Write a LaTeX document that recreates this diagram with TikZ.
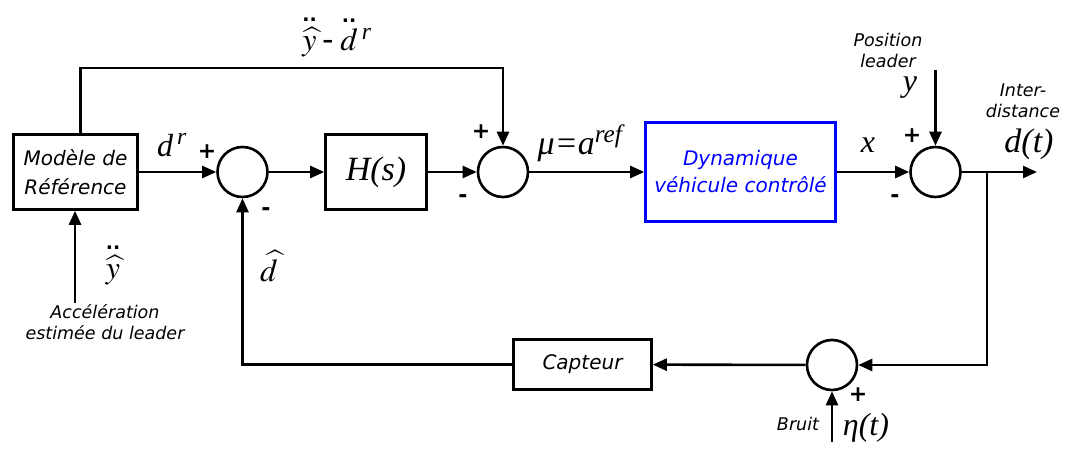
\documentclass[tikz,border=0pt]{standalone}
\usepackage{amsmath}
\usepackage{mathptmx}
\usepackage{fontspec}
\setmainfont{DejaVu Sans}
\newfontfamily\tms{Liberation Serif}
\usetikzlibrary{arrows.meta}

% double dot placed above a (hatted) symbol
\newcommand{\ddotsym}{{\rmfamily\upshape\bfseries\fontsize{19}{19}\selectfont..}}
\newcommand{\dd}[1]{\overset{\text{\ddotsym}}{#1}}

\tikzset{
  blk/.style={draw, line width=2.6pt, inner sep=0pt, align=center,
    font=\fontsize{20}{29}\selectfont\itshape},
  sumnode/.style={draw, circle, line width=2.6pt, minimum size=50pt, inner sep=0pt},
  sig/.style={line width=2.6pt, -{Triangle[length=14pt,width=12pt]}},
  sgn/.style={font=\fontsize{22}{22}\selectfont\bfseries},
  lbl/.style={font=\fontsize{17.5}{21}\selectfont\itshape, align=center},
  var/.style={font=\fontsize{32}{36}\selectfont\tms\itshape},
}

\begin{document}
\begin{tikzpicture}[x=1pt, y=-1pt]
    \useasboundingbox (0,0) rectangle (1069,449);

    % Blocks
    \node[blk, minimum width=124pt, minimum height=75pt] (model) at (75.5,172) {Modèle de\\Référence};
    \node[blk, minimum width=101pt, minimum height=75pt,
      font=\fontsize{34}{36}\selectfont\tms\itshape] (hs) at (376,172) {H(s)};
    \node[blk, draw=blue, text=blue, minimum width=190pt, minimum height=99pt,
      font=\fontsize{20}{27}\selectfont\itshape] (dyn) at (740.5,172) {Dynamique\\véhicule contrôlé};
    \node[blk, minimum width=138pt, minimum height=50pt] (capt) at (582.5,364.5) {Capteur};

    % Summing points
    \node[sumnode] (sumA) at (242.5,172) {};
    \node[sumnode] (sumB) at (503,172) {};
    \node[sumnode] (sumC) at (935.5,172) {};
    \node[sumnode] (sumD) at (832,365) {};

    % Free ends
    \coordinate (accIn) at (75,303);
    \coordinate (yIn) at (935.5,70);
    \coordinate (noiseIn) at (832,442);
    \coordinate (outD) at (1037,172);
    \coordinate (branch) at (987,172);

    % Connections
    \draw[sig] (model) -- (sumA);
    \draw[sig] (sumA) -- (hs);
    \draw[sig] (hs) -- (sumB);
    \draw[sig] (sumB) -- (dyn);
    \draw[sig] (dyn) -- (sumC);
    \draw[sig] (sumC) -- (outD);
    \draw[sig] (branch) |- (sumD);
    \draw[sig] (sumD) -- (capt);
    \draw[sig] (capt) -| (sumA);
    \draw[sig] ([xshift=5pt]model.north) -- ++(0,-65) -| (sumB);
    \draw[sig] (accIn) -- (accIn |- model.south);
    \draw[sig] (yIn) -- (sumC);
    \draw[sig] (noiseIn) -- (sumD);

    % Signs
    \node[sgn] (pA) at (207,152) {+};
    \node[sgn] (mA) at (266,212) {-};
    \node[sgn] (pB) at (481,132) {+};
    \node[sgn] (mB) at (463,199) {-};
    \node[sgn] (pC) at (912,136) {+};
    \node[sgn] (mC) at (895,199) {-};
    \node[sgn] (pD) at (858,395) {+};

    % Signal labels
    \node[var] (lblTop) at (337,36) {$\dd{\widehat{y}}$\kern6pt{\rmfamily\upshape -}\kern6pt$\dd{d}$\textsuperscript{\,r}};
    \node[var] (lblDr) at (172,145) {d\textsuperscript{\,r}};
    \node[var] (lblDhat) at (269,266) {$\widehat{d}$};
    \node[var] (lblYdd) at (113,264) {$\dd{\widehat{y}}$};
    \node[var, font=\fontsize{34}{36}\selectfont\tms\itshape] (lblMu) at (580,143) {μ=a\textsuperscript{ref}};
    \node[var] (lblX) at (868,145) {x};
    \node[var] (lblY) at (910,88) {y};
    \node[var, font=\fontsize{34}{36}\selectfont\tms\itshape] (lblDt) at (1029,144) {d(t)};
    \node[var] (lblEta) at (866,428) {η(t)};

    % Text labels
    \node[lbl] (lblAcc) at (105,322) {Accélération\\estimée du leader};
    \node[lbl] (lblPos) at (888,50) {Position\\leader};
    \node[lbl] (lblInter) at (1023,101) {Inter-\\distance};
    \node[lbl] (lblBruit) at (798,424) {Bruit};
\end{tikzpicture}
\end{document}
